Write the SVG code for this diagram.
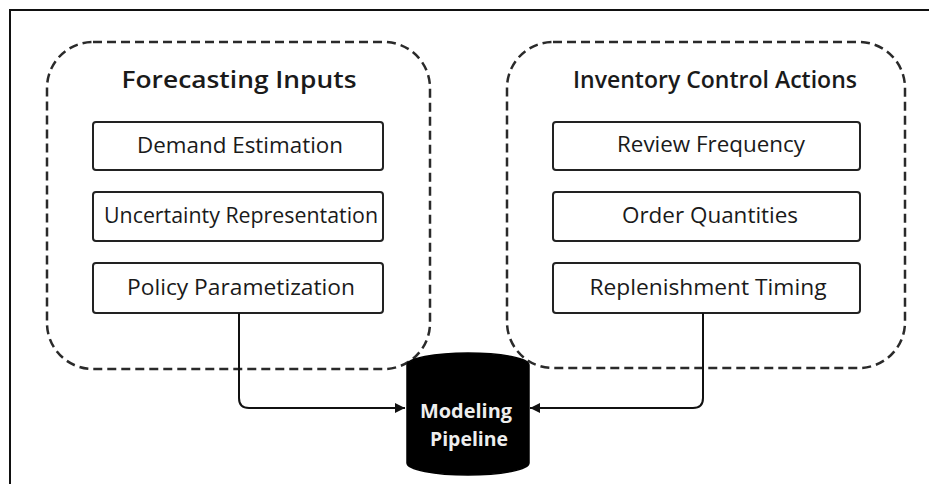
<svg xmlns="http://www.w3.org/2000/svg" width="929" height="484" viewBox="0 0 929 484">
  <defs>
    <marker id="arrow" viewBox="0 0 10 10" refX="10" refY="5" markerWidth="10" markerHeight="10" markerUnits="userSpaceOnUse" orient="auto">
      <path d="M0,0 L10,5 L0,10 z" fill="#111"/>
    </marker>
    <style>
      .frame { fill: #fff; stroke: #111; stroke-width: 2; }
      .group { fill: none; stroke: #2a2a2a; stroke-width: 2.5; stroke-dasharray: 9 5; }
      .box { fill: #fff; stroke: #222; stroke-width: 2; }
      .title { font-family: "Open Sans", "Lato", sans-serif; font-weight: 600; font-size: 23px; fill: #1a1a1a; text-anchor: middle; }
      .label { font-family: "Open Sans", "Lato", sans-serif; font-weight: 500; font-size: 21.5px; fill: #1a1a1a; text-anchor: middle; }
      .db { fill: #000; stroke: #000; stroke-width: 1.5; }
      .dbtext { font-family: "Open Sans", "Lato", sans-serif; font-weight: 700; font-size: 20px; fill: #eeeeee; text-anchor: middle; }
      .link { fill: none; stroke: #111; stroke-width: 2; }
    </style>
  </defs>

  <!-- page frame -->
  <rect x="0" y="0" width="929" height="484" fill="#fff"/>
  <rect class="frame" x="10" y="10" width="930" height="490"/>

  <!-- forecasting inputs cluster -->
  <g id="forecasting-inputs">
    <rect class="group" x="47" y="42" width="383" height="327" rx="46" ry="46"/>
    <text class="title" x="239" y="88" textLength="235" lengthAdjust="spacingAndGlyphs">Forecasting Inputs</text>
  </g>
  <g id="demand-estimation">
    <rect class="box" x="93" y="122" width="290" height="48" rx="3"/>
    <text class="label" x="240" y="153" textLength="206" lengthAdjust="spacingAndGlyphs">Demand Estimation</text>
  </g>
  <g id="uncertainty-representation">
    <rect class="box" x="93" y="192" width="290" height="49" rx="3"/>
    <text class="label" x="241" y="223" textLength="274" lengthAdjust="spacingAndGlyphs">Uncertainty Representation</text>
  </g>
  <g id="policy-parametrization">
    <rect class="box" x="93" y="263" width="290" height="50" rx="3"/>
    <text class="label" x="241" y="295" textLength="228" lengthAdjust="spacingAndGlyphs">Policy Parametization</text>
  </g>

  <!-- inventory control actions cluster -->
  <g id="inventory-control-actions">
    <rect class="group" x="507" y="42" width="398" height="326" rx="46" ry="46"/>
    <text class="title" x="715" y="88" textLength="284" lengthAdjust="spacingAndGlyphs">Inventory Control Actions</text>
  </g>
  <g id="review-frequency">
    <rect class="box" x="553" y="122" width="307" height="48" rx="3"/>
    <text class="label" x="711" y="152" textLength="188" lengthAdjust="spacingAndGlyphs">Review Frequency</text>
  </g>
  <g id="order-quantities">
    <rect class="box" x="553" y="192" width="307" height="49" rx="3"/>
    <text class="label" x="710" y="223" textLength="176" lengthAdjust="spacingAndGlyphs">Order Quantities</text>
  </g>
  <g id="replenishment-timing">
    <rect class="box" x="553" y="263" width="307" height="50" rx="3"/>
    <text class="label" x="708" y="295" textLength="237" lengthAdjust="spacingAndGlyphs">Replenishment Timing</text>
  </g>

  <!-- modeling pipeline store -->
  <g id="modeling-pipeline">
    <path class="db" d="M407,365 A61,12 0 0 1 529,365 L529,463 A61,12 0 0 1 407,463 Z"/>
    <text class="dbtext" x="466" y="418" textLength="92" lengthAdjust="spacingAndGlyphs">Modeling</text>
    <text class="dbtext" x="469" y="446" textLength="78" lengthAdjust="spacingAndGlyphs">Pipeline</text>
  </g>

  <!-- connectors -->
  <g id="connectors">
    <path class="link" d="M239,313 L239,398 Q239,408 249,408 L405,408" marker-end="url(#arrow)"/>
    <path class="link" d="M703,313 L703,398 Q703,408 693,408 L530,408" marker-end="url(#arrow)"/>
  </g>
</svg>
